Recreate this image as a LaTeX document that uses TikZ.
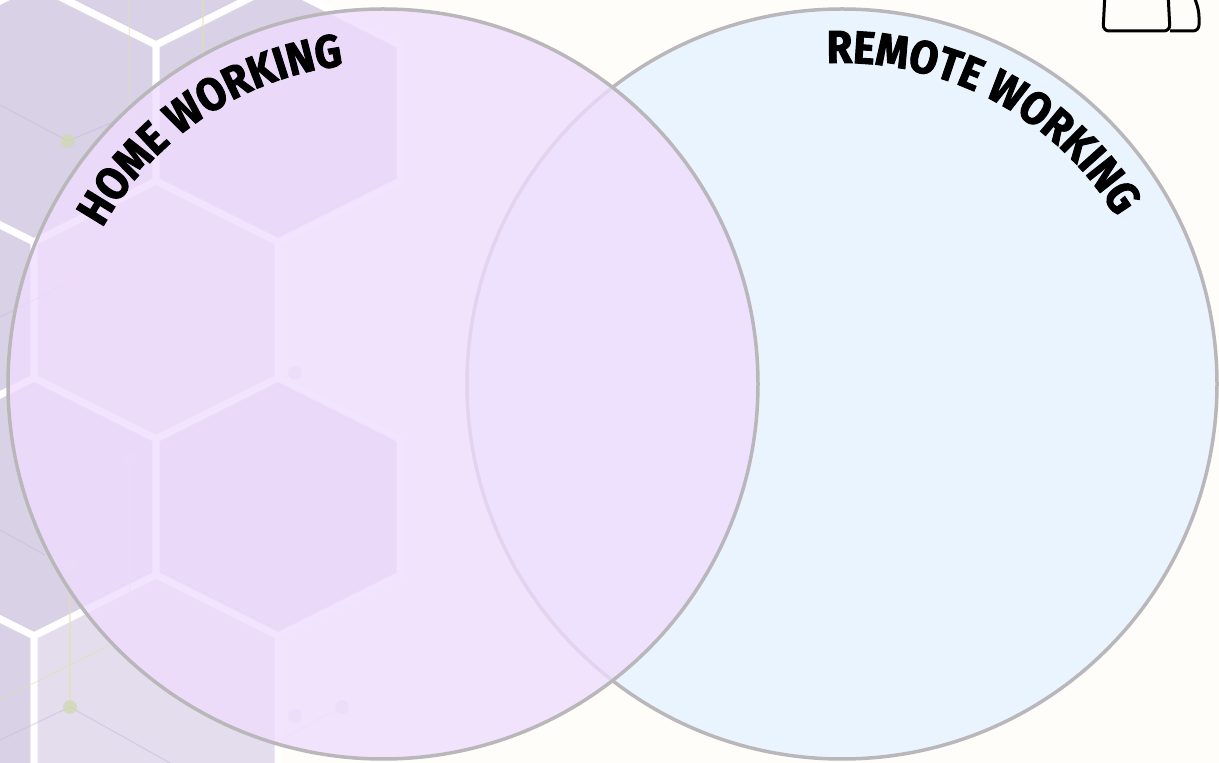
\documentclass[tikz,border=0pt]{standalone}
\usepackage{fontspec}
\newfontfamily\titlefont{Fira Sans}[FakeStretch=0.9, BoldFeatures={FakeBold=2}]
\usetikzlibrary{decorations.text}
\definecolor{bgc}{HTML}{FEFDF9}
\definecolor{hexA}{HTML}{D9D2E6}
\definecolor{hexB}{HTML}{E3DDED}
\definecolor{lavfill}{HTML}{EFDCFE}
\definecolor{bluefill}{HTML}{EAF4FE}
\definecolor{ringc}{HTML}{BAB7BA}
\definecolor{dotg}{HTML}{CFD9AE}
\definecolor{dotp}{HTML}{E8DAEA}
\definecolor{linel}{HTML}{C4BADC}
\definecolor{liney}{HTML}{E6DFA8}
\begin{document}
\begin{tikzpicture}[x=1pt,y=1pt,
  hexcell/.style={fill=#1, draw=white, line width=7pt, line join=miter},
  ring/.style={draw=ringc, line width=3.5pt},
  vennset/.style={circle, minimum size=750pt, inner sep=0pt, outer sep=0pt},
  molline/.style={draw=#1, line width=1.1pt, opacity=0.5},
  iconline/.style={draw=black, line width=3pt, rounded corners=6pt},
  arctext/.style={decorate, decoration={text along path, text align=center,
     text={|\titlefont\bfseries\fontsize{46}{46}\selectfont|#1}}}]
\useasboundingbox (0,0) rectangle (1219,763);
\fill[bgc] (0,0) rectangle (1219,763);
\begin{scope}
\clip (0,0) rectangle (1219,763);
% hexagon background pattern (fades out to the right)
\foreach \cx/\cy/\col in {-88/847/hexA, 156/847/hexA,
   34/650/hexA, 278/650/hexA,
   -88/453/hexA, 156/453/hexB,
   34/256/hexA, 278/256/hexA,
   -88/59/hexA, 156/59/hexB} {
  \path[hexcell=\col] (\cx,\cy+129) -- (\cx+122,\cy+68) -- (\cx+122,\cy-68)
     -- (\cx,\cy-129) -- (\cx-122,\cy-68) -- (\cx-122,\cy+68) -- cycle;
}
% faint molecule lines and dots
\draw[molline=linel] (0,658) -- (68,622) -- (130,648);
\draw[molline=liney] (129,763) -- (130,648);
\draw[molline=liney] (203,763) -- (203,695);
\draw[molline=linel] (68,480) -- (0,446);
\draw[molline=linel] (0,233) -- (45,208);
\draw[molline=liney] (70,198) -- (70,56);
\draw[molline=dotp] (130,304) -- (130,131);
\draw[molline=linel] (0,23) -- (70,56) -- (170,0);
\draw[molline=liney] (0,63) -- (110,118);
\draw[molline=dotp] (342,56) -- (280,23);
\foreach \px/\py in {68/622, 70/56} \fill[dotg, opacity=0.7] (\px,\py) circle (7);
\foreach \px/\py in {130/648, 203/695, 68/480, 295/390, 130/304, 70/198, 130/131, 295/47, 342/56}
  \fill[dotp, opacity=0.7] (\px,\py) circle (7);
% Venn circles
\node[vennset, fill=bluefill, ring] (rc) at (842,379) {};
\node[vennset, fill=lavfill, fill opacity=0.78, ring] (lc) at (383,379) {};
% curved titles
\path[arctext={HOME WORKING}] ([shift={(lc.center)}]181:321) arc[start angle=181, end angle=67, radius=321];
\path[arctext={REMOTE WORKING}] ([shift={(rc.center)}]122:321) arc[start angle=122, end angle=2, radius=321];
% partial icon at top right
\draw[iconline] (1105,770) -- (1103,732) -- (1170,732) -- (1168,770);
\draw[iconline] (1170,732) -- (1199,732) -- (1199,752) -- (1193,770);
\end{scope}
\end{tikzpicture}
\end{document}
